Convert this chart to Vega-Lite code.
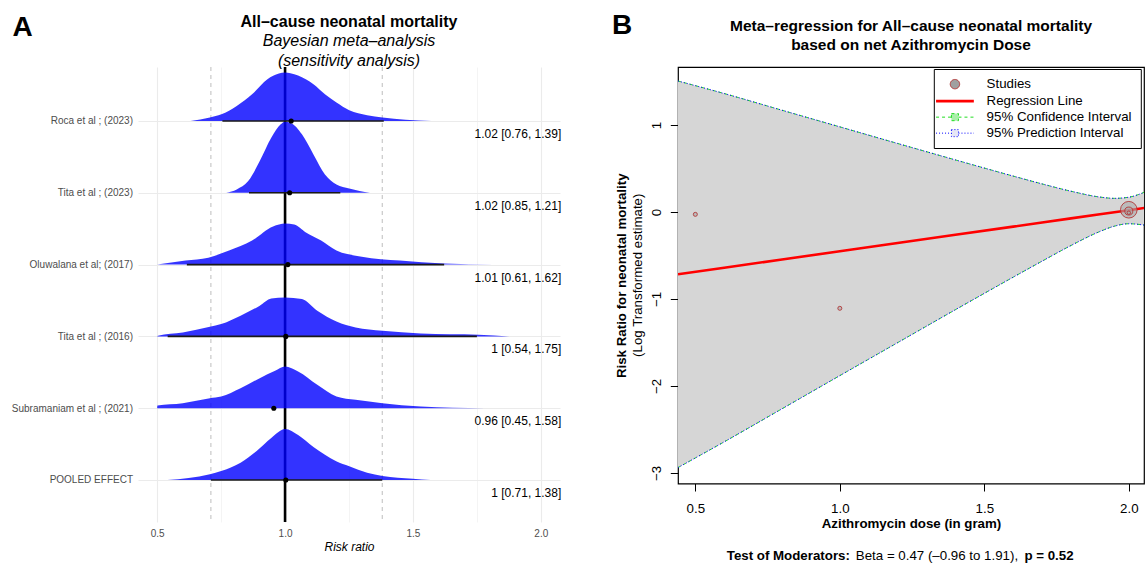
{
 "$schema": "https://vega.github.io/schema/vega-lite/v6.json",
 "background": "white",
 "padding": {"left": 11, "top": 11, "right": 0, "bottom": 0},
 "config": {
  "font": "Liberation Sans",
  "view": {"stroke": null},
  "axis": {"labelFont": "Liberation Sans", "titleFont": "Liberation Sans"},
  "legend": {"labelFont": "Liberation Sans"},
  "title": {"font": "Liberation Sans", "subtitleFont": "Liberation Sans"}
 },
 "datasets": {
  "dens": [
   {"study": "Roca et al ; (2023)", "row": 6, "x": 0.631, "top": 6},
   {"study": "Roca et al ; (2023)", "row": 6, "x": 0.706, "top": 6.047},
   {"study": "Roca et al ; (2023)", "row": 6, "x": 0.751, "top": 6.093},
   {"study": "Roca et al ; (2023)", "row": 6, "x": 0.811, "top": 6.209},
   {"study": "Roca et al ; (2023)", "row": 6, "x": 0.871, "top": 6.372},
   {"study": "Roca et al ; (2023)", "row": 6, "x": 0.931, "top": 6.581},
   {"study": "Roca et al ; (2023)", "row": 6, "x": 0.976, "top": 6.66},
   {"study": "Roca et al ; (2023)", "row": 6, "x": 1.0, "top": 6.674},
   {"study": "Roca et al ; (2023)", "row": 6, "x": 1.021, "top": 6.665},
   {"study": "Roca et al ; (2023)", "row": 6, "x": 1.081, "top": 6.581},
   {"study": "Roca et al ; (2023)", "row": 6, "x": 1.111, "top": 6.512},
   {"study": "Roca et al ; (2023)", "row": 6, "x": 1.156, "top": 6.372},
   {"study": "Roca et al ; (2023)", "row": 6, "x": 1.201, "top": 6.256},
   {"study": "Roca et al ; (2023)", "row": 6, "x": 1.251, "top": 6.149},
   {"study": "Roca et al ; (2023)", "row": 6, "x": 1.321, "top": 6.079},
   {"study": "Roca et al ; (2023)", "row": 6, "x": 1.381, "top": 6.047},
   {"study": "Roca et al ; (2023)", "row": 6, "x": 1.471, "top": 6.019},
   {"study": "Roca et al ; (2023)", "row": 6, "x": 1.572, "top": 6},
   {"study": "Tita et al ; (2023)", "row": 5, "x": 0.77, "top": 5},
   {"study": "Tita et al ; (2023)", "row": 5, "x": 0.811, "top": 5.047},
   {"study": "Tita et al ; (2023)", "row": 5, "x": 0.856, "top": 5.163},
   {"study": "Tita et al ; (2023)", "row": 5, "x": 0.901, "top": 5.442},
   {"study": "Tita et al ; (2023)", "row": 5, "x": 0.946, "top": 5.767},
   {"study": "Tita et al ; (2023)", "row": 5, "x": 0.983, "top": 5.953},
   {"study": "Tita et al ; (2023)", "row": 5, "x": 1.0, "top": 5.99},
   {"study": "Tita et al ; (2023)", "row": 5, "x": 1.021, "top": 5.977},
   {"study": "Tita et al ; (2023)", "row": 5, "x": 1.066, "top": 5.814},
   {"study": "Tita et al ; (2023)", "row": 5, "x": 1.111, "top": 5.535},
   {"study": "Tita et al ; (2023)", "row": 5, "x": 1.156, "top": 5.256},
   {"study": "Tita et al ; (2023)", "row": 5, "x": 1.201, "top": 5.116},
   {"study": "Tita et al ; (2023)", "row": 5, "x": 1.251, "top": 5.06},
   {"study": "Tita et al ; (2023)", "row": 5, "x": 1.332, "top": 5},
   {"study": "Oluwalana et al; (2017)", "row": 4, "x": 0.5, "top": 4},
   {"study": "Oluwalana et al; (2017)", "row": 4, "x": 0.611, "top": 4.056},
   {"study": "Oluwalana et al; (2017)", "row": 4, "x": 0.7, "top": 4.097},
   {"study": "Oluwalana et al; (2017)", "row": 4, "x": 0.781, "top": 4.195},
   {"study": "Oluwalana et al; (2017)", "row": 4, "x": 0.871, "top": 4.334},
   {"study": "Oluwalana et al; (2017)", "row": 4, "x": 0.953, "top": 4.529},
   {"study": "Oluwalana et al; (2017)", "row": 4, "x": 1.0, "top": 4.571},
   {"study": "Oluwalana et al; (2017)", "row": 4, "x": 1.036, "top": 4.557},
   {"study": "Oluwalana et al; (2017)", "row": 4, "x": 1.08, "top": 4.45},
   {"study": "Oluwalana et al; (2017)", "row": 4, "x": 1.141, "top": 4.334},
   {"study": "Oluwalana et al; (2017)", "row": 4, "x": 1.201, "top": 4.195},
   {"study": "Oluwalana et al; (2017)", "row": 4, "x": 1.3, "top": 4.111},
   {"study": "Oluwalana et al; (2017)", "row": 4, "x": 1.449, "top": 4.056},
   {"study": "Oluwalana et al; (2017)", "row": 4, "x": 1.62, "top": 4.014},
   {"study": "Oluwalana et al; (2017)", "row": 4, "x": 1.817, "top": 4},
   {"study": "Tita et al ; (2016)", "row": 3, "x": 0.5, "top": 3},
   {"study": "Tita et al ; (2016)", "row": 3, "x": 0.503, "top": 3.01},
   {"study": "Tita et al ; (2016)", "row": 3, "x": 0.6, "top": 3.056},
   {"study": "Tita et al ; (2016)", "row": 3, "x": 0.706, "top": 3.135},
   {"study": "Tita et al ; (2016)", "row": 3, "x": 0.75, "top": 3.171},
   {"study": "Tita et al ; (2016)", "row": 3, "x": 0.826, "top": 3.288},
   {"study": "Tita et al ; (2016)", "row": 3, "x": 0.901, "top": 3.428},
   {"study": "Tita et al ; (2016)", "row": 3, "x": 0.946, "top": 3.529},
   {"study": "Tita et al ; (2016)", "row": 3, "x": 1.0, "top": 3.543},
   {"study": "Tita et al ; (2016)", "row": 3, "x": 1.066, "top": 3.52},
   {"study": "Tita et al ; (2016)", "row": 3, "x": 1.126, "top": 3.358},
   {"study": "Tita et al ; (2016)", "row": 3, "x": 1.201, "top": 3.209},
   {"study": "Tita et al ; (2016)", "row": 3, "x": 1.276, "top": 3.125},
   {"study": "Tita et al ; (2016)", "row": 3, "x": 1.381, "top": 3.079},
   {"study": "Tita et al ; (2016)", "row": 3, "x": 1.531, "top": 3.042},
   {"study": "Tita et al ; (2016)", "row": 3, "x": 1.757, "top": 3.024},
   {"study": "Tita et al ; (2016)", "row": 3, "x": 1.877, "top": 3},
   {"study": "Subramaniam et al ; (2021)", "row": 2, "x": 0.5, "top": 2},
   {"study": "Subramaniam et al ; (2021)", "row": 2, "x": 0.501, "top": 2.037},
   {"study": "Subramaniam et al ; (2021)", "row": 2, "x": 0.6, "top": 2.07},
   {"study": "Subramaniam et al ; (2021)", "row": 2, "x": 0.706, "top": 2.139},
   {"study": "Subramaniam et al ; (2021)", "row": 2, "x": 0.75, "top": 2.163},
   {"study": "Subramaniam et al ; (2021)", "row": 2, "x": 0.826, "top": 2.279},
   {"study": "Subramaniam et al ; (2021)", "row": 2, "x": 0.901, "top": 2.418},
   {"study": "Subramaniam et al ; (2021)", "row": 2, "x": 0.961, "top": 2.52},
   {"study": "Subramaniam et al ; (2021)", "row": 2, "x": 1.0, "top": 2.58},
   {"study": "Subramaniam et al ; (2021)", "row": 2, "x": 1.051, "top": 2.511},
   {"study": "Subramaniam et al ; (2021)", "row": 2, "x": 1.126, "top": 2.325},
   {"study": "Subramaniam et al ; (2021)", "row": 2, "x": 1.201, "top": 2.163},
   {"study": "Subramaniam et al ; (2021)", "row": 2, "x": 1.276, "top": 2.116},
   {"study": "Subramaniam et al ; (2021)", "row": 2, "x": 1.381, "top": 2.07},
   {"study": "Subramaniam et al ; (2021)", "row": 2, "x": 1.531, "top": 2.024},
   {"study": "Subramaniam et al ; (2021)", "row": 2, "x": 1.779, "top": 2},
   {"study": "POOLED EFFECT", "row": 1, "x": 0.54, "top": 1},
   {"study": "POOLED EFFECT", "row": 1, "x": 0.706, "top": 1.079},
   {"study": "POOLED EFFECT", "row": 1, "x": 0.75, "top": 1.125},
   {"study": "POOLED EFFECT", "row": 1, "x": 0.826, "top": 1.241},
   {"study": "POOLED EFFECT", "row": 1, "x": 0.889, "top": 1.404},
   {"study": "POOLED EFFECT", "row": 1, "x": 0.946, "top": 1.585},
   {"study": "POOLED EFFECT", "row": 1, "x": 1.0, "top": 1.71},
   {"study": "POOLED EFFECT", "row": 1, "x": 1.051, "top": 1.627},
   {"study": "POOLED EFFECT", "row": 1, "x": 1.111, "top": 1.46},
   {"study": "POOLED EFFECT", "row": 1, "x": 1.156, "top": 1.35},
   {"study": "POOLED EFFECT", "row": 1, "x": 1.2, "top": 1.26},
   {"study": "POOLED EFFECT", "row": 1, "x": 1.251, "top": 1.19},
   {"study": "POOLED EFFECT", "row": 1, "x": 1.321, "top": 1.1},
   {"study": "POOLED EFFECT", "row": 1, "x": 1.381, "top": 1.056},
   {"study": "POOLED EFFECT", "row": 1, "x": 1.5, "top": 1.018},
   {"study": "POOLED EFFECT", "row": 1, "x": 1.569, "top": 1}
  ],
  "est": [
   {"study": "Roca et al ; (2023)", "row": 6, "est": 1.024, "lo": 0.755, "hi": 1.386, "lab": "1.02 [0.76, 1.39]"},
   {"study": "Tita et al ; (2023)", "row": 5, "est": 1.018, "lo": 0.859, "hi": 1.216, "lab": "1.02 [0.85, 1.21]"},
   {"study": "Oluwalana et al; (2017)", "row": 4, "est": 1.011, "lo": 0.616, "hi": 1.622, "lab": "1.01 [0.61, 1.62]"},
   {"study": "Tita et al ; (2016)", "row": 3, "est": 1.003, "lo": 0.541, "hi": 1.75, "lab": "1 [0.54, 1.75]"},
   {"study": "Subramaniam et al ; (2021)", "row": 2, "est": 0.956, "lo": 0.45, "hi": 1.58, "lab": "0.96 [0.45, 1.58]"},
   {"study": "POOLED EFFECT", "row": 1, "est": 1.003, "lo": 0.71, "hi": 1.38, "lab": "1 [0.71, 1.38]"}
  ],
  "reg": [
   {"dose": 0.44, "fit": -0.716, "lower": -2.938, "upper": 1.506},
   {"dose": 0.6, "fit": -0.64, "lower": -2.642, "upper": 1.362},
   {"dose": 0.8, "fit": -0.546, "lower": -2.262, "upper": 1.17},
   {"dose": 1.0, "fit": -0.451, "lower": -1.881, "upper": 0.979},
   {"dose": 1.2, "fit": -0.357, "lower": -1.502, "upper": 0.788},
   {"dose": 1.4, "fit": -0.262, "lower": -1.123, "upper": 0.599},
   {"dose": 1.6, "fit": -0.168, "lower": -0.749, "upper": 0.413},
   {"dose": 1.7, "fit": -0.121, "lower": -0.565, "upper": 0.323},
   {"dose": 1.8, "fit": -0.073, "lower": -0.385, "upper": 0.239},
   {"dose": 1.9, "fit": -0.026, "lower": -0.224, "upper": 0.172},
   {"dose": 1.95, "fit": -0.003, "lower": -0.163, "upper": 0.157},
   {"dose": 2.0, "fit": 0.021, "lower": -0.135, "upper": 0.17},
   {"dose": 2.053, "fit": 0.046, "lower": -0.15, "upper": 0.226}
  ],
  "studies": [
   {"dose": 2.0, "lnrr": 0.026, "w": 71.9},
   {"dose": 2.0, "lnrr": 0.011, "w": 16.7},
   {"dose": 0.5, "lnrr": -0.027, "w": 4.2},
   {"dose": 1.0, "lnrr": -1.107, "w": 4.2},
   {"dose": 2.0, "lnrr": -0.008, "w": 3.1}
  ]
 },
 "spacing": 49,
 "resolve": {"scale": {"color": "independent"}, "legend": {"color": "independent"}},
 "hconcat": [
  {
   "width": 422,
   "height": 455,
   "title": {
    "text": "All–cause neonatal mortality",
    "subtitle": ["Bayesian meta–analysis", "(sensitivity analysis)"],
    "anchor": "middle",
    "fontSize": 16,
    "fontWeight": "bold",
    "color": "black",
    "subtitleFontSize": 16,
    "subtitleFontStyle": "italic",
    "subtitleColor": "black",
    "subtitlePadding": 3,
    "subtitleLineHeight": 19.5,
    "offset": -55
   },
   "layer": [
    {
     "data": {"name": "est"},
     "transform": [{"filter": "datum.row == 1"}],
     "mark": {"type": "rule", "color": "#BDBDBD", "strokeWidth": 1, "strokeDash": [4, 4]},
     "encoding": {
      "x": {
       "field": "lo", "type": "quantitative", "title": "Risk ratio",
       "scale": {"domain": [0.425, 2.075], "nice": false, "zero": false},
       "axis": {
        "values": [0.5, 0.75, 1, 1.25, 1.5, 1.75, 2],
        "labelExpr": "(datum.value * 4) % 2 == 0 ? format(datum.value, '.1f') : ''",
        "grid": true,
        "gridColor": "#EBEBEB",
        "gridWidth": {"condition": {"test": "(datum.value * 4) % 2 == 1", "value": 0.55}, "value": 1.1},
        "ticks": false,
        "domain": false,
        "labelFontSize": 10,
        "labelColor": "#4D4D4D",
        "labelPadding": 6,
        "title": "Risk ratio",
        "titleFontStyle": "italic",
        "titleFontWeight": "normal",
        "titleFontSize": 12,
        "titleColor": "black",
        "titlePadding": 3
       }
      }
     }
    },
    {
     "data": {"name": "est"},
     "transform": [{"filter": "datum.row == 1"}],
     "mark": {"type": "rule", "color": "#BDBDBD", "strokeWidth": 1, "strokeDash": [4, 4]},
     "encoding": {"x": {"field": "hi", "type": "quantitative", "title": "Risk ratio"}}
    },
    {
     "data": {"values": [{}]},
     "mark": {"type": "rule", "color": "black", "strokeWidth": 2.6},
     "encoding": {"x": {"datum": 1}}
    },
    {
     "data": {"name": "dens"},
     "mark": {"type": "area", "interpolate": "monotone", "color": "#0000FF", "opacity": 1, "fillOpacity": 0.8},
     "encoding": {
      "x": {"field": "x", "type": "quantitative", "title": "Risk ratio"},
      "y": {
       "field": "top", "type": "quantitative",
       "scale": {"domain": [0.415, 6.752], "nice": false, "zero": false},
       "axis": {
        "values": [1, 2, 3, 4, 5, 6],
        "labelExpr": "datum.value == 6 ? 'Roca et al ; (2023)' : datum.value == 5 ? 'Tita et al ; (2023)' : datum.value == 4 ? 'Oluwalana et al; (2017)' : datum.value == 3 ? 'Tita et al ; (2016)' : datum.value == 2 ? 'Subramaniam et al ; (2021)' : 'POOLED EFFECT'",
        "title": null,
        "ticks": false,
        "domain": false,
        "grid": true,
        "gridColor": "#EBEBEB",
        "gridWidth": 1.1,
        "labelFontSize": 10,
        "labelColor": "#4D4D4D",
        "labelPadding": 5.5
       }
      },
      "y2": {"field": "row"},
      "detail": {"field": "study"}
     }
    },
    {
     "data": {"name": "est"},
     "transform": [{"filter": "datum.lo >= 0.5"}],
     "mark": {"type": "rule", "color": "#1A1A1A", "strokeWidth": 1.6},
     "encoding": {
      "x": {"field": "lo", "type": "quantitative", "title": "Risk ratio"},
      "x2": {"field": "hi"},
      "y": {"field": "row", "type": "quantitative"}
     }
    },
    {
     "data": {"name": "est"},
     "mark": {"type": "circle", "color": "black", "size": 26, "opacity": 1},
     "encoding": {
      "x": {"field": "est", "type": "quantitative", "title": "Risk ratio"},
      "y": {"field": "row", "type": "quantitative"}
     }
    },
    {
     "data": {"name": "est"},
     "mark": {"type": "text", "align": "right", "baseline": "middle", "dy": 13, "fontSize": 12, "color": "black"},
     "encoding": {
      "x": {"datum": 2.08},
      "y": {"field": "row", "type": "quantitative"},
      "text": {"field": "lab"}
     }
    },
    {
     "data": {"values": [{}]},
     "mark": {"type": "text", "text": "A", "fontSize": 28, "fontWeight": "bold", "align": "center", "baseline": "alphabetic", "color": "black"},
     "encoding": {"x": {"datum": -0.026}, "y": {"datum": 7.184}}
    }
   ]
  },
  {
   "width": 466,
   "height": 416.5,
   "view": {"stroke": "black", "strokeWidth": 1.2},
   "title": {
    "text": ["Meta–regression for All–cause neonatal mortality", "based on net Azithromycin Dose"],
    "anchor": "middle",
    "fontSize": 15.5,
    "fontWeight": "bold",
    "lineHeight": 19,
    "color": "black",
    "offset": -41
   },
   "layer": [
    {
     "data": {"name": "reg"},
     "mark": {"type": "area", "interpolate": "monotone", "color": "#D6D6D6", "opacity": 1, "clip": true},
     "encoding": {
      "x": {
       "field": "dose", "type": "quantitative",
       "scale": {"domain": [0.44, 2.0526], "nice": false, "zero": false},
       "axis": {
        "values": [0.5, 1, 1.5, 2],
        "format": ".1f",
        "grid": false,
        "domain": false,
        "tickColor": "black",
        "tickSize": 7.5,
        "tickWidth": 1,
        "labelFontSize": 13.3,
        "labelColor": "black",
        "labelPadding": 10,
        "title": "Azithromycin dose (in gram)",
        "titleFontSize": 13.3,
        "titleFontWeight": "bold",
        "titleColor": "black",
        "titlePadding": 2
       }
      },
      "y": {
       "field": "lower", "type": "quantitative",
       "scale": {"domain": [-3.121, 1.667], "nice": false, "zero": false},
       "axis": {
        "values": [-3, -2, -1, 0, 1],
        "format": "d",
        "grid": false,
        "domain": false,
        "tickColor": "black",
        "tickSize": 7.7,
        "tickWidth": 1,
        "labelAngle": 270,
        "labelAlign": "center",
        "labelBaseline": "alphabetic",
        "labelFontSize": 13.3,
        "labelColor": "black",
        "labelPadding": 10,
        "title": "Risk Ratio for neonatal mortality",
        "titleFontSize": 13.3,
        "titleFontWeight": "bold",
        "titleColor": "black",
        "titlePadding": 21
       }
      },
      "y2": {"field": "upper"}
     }
    },
    {
     "data": {"name": "reg"},
     "mark": {"type": "line", "interpolate": "monotone", "strokeWidth": 1, "strokeDash": [3, 3], "clip": true},
     "encoding": {
      "x": {"field": "dose", "type": "quantitative"},
      "y": {"field": "upper", "type": "quantitative"},
      "color": {
       "datum": "95% Confidence Interval",
       "scale": {
        "domain": ["Studies", "Regression Line", "95% Confidence Interval", "95% Prediction Interval"],
        "range": ["#B03030", "#FF0000", "#22DD22", "#0000FF"]
       },
       "legend": {
        "title": null,
        "orient": "none",
        "legendX": 255.8,
        "legendY": 2,
        "strokeColor": "black",
        "fillColor": "white",
        "padding": 8.5,
        "symbolSize": 270,
        "symbolOffset": 6,
        "labelOffset": 25,
        "rowPadding": 2,
        "labelFontSize": 13.3,
        "labelColor": "black",
        "labelLimit": 300,
        "encode": {
         "symbols": {
          "update": {
           "shape": {"signal": "datum.value === 'Studies' ? 'circle' : datum.value === 'Regression Line' ? 'M-2.3,0H2.3' : 'M-2.3,0H-0.43M0.43,0H2.3M-0.43,-0.43H0.43V0.43H-0.43Z'"},
           "size": {"signal": "datum.value === 'Studies' ? 88 : 270"},
           "fill": {"signal": "datum.value === 'Studies' ? '#A0A0A0' : datum.value === '95% Confidence Interval' ? '#A8EFA8' : datum.value === '95% Prediction Interval' ? '#E6E6F5' : 'transparent'"},
           "fillOpacity": {"value": 1},
           "opacity": {"value": 1},
           "stroke": {"signal": "datum.value === 'Studies' ? '#B03030' : datum.value === 'Regression Line' ? '#FF0000' : datum.value === '95% Confidence Interval' ? '#22DD22' : '#0000FF'"},
           "strokeWidth": {"signal": "datum.value === 'Regression Line' ? 2.6 : 1"},
           "strokeDash": {"signal": "datum.value === '95% Confidence Interval' ? [3, 3] : datum.value === '95% Prediction Interval' ? [1, 2] : [1, 0]"}
          }
         }
        }
       }
      }
     }
    },
    {
     "data": {"name": "reg"},
     "mark": {"type": "line", "interpolate": "monotone", "strokeWidth": 1, "strokeDash": [3, 3], "clip": true},
     "encoding": {
      "x": {"field": "dose", "type": "quantitative"},
      "y": {"field": "lower", "type": "quantitative"},
      "color": {"datum": "95% Confidence Interval"}
     }
    },
    {
     "data": {"name": "reg"},
     "mark": {"type": "line", "interpolate": "monotone", "strokeWidth": 1, "strokeDash": [1, 2], "clip": true},
     "encoding": {
      "x": {"field": "dose", "type": "quantitative"},
      "y": {"field": "upper", "type": "quantitative"},
      "color": {"datum": "95% Prediction Interval"}
     }
    },
    {
     "data": {"name": "reg"},
     "mark": {"type": "line", "interpolate": "monotone", "strokeWidth": 1, "strokeDash": [1, 2], "clip": true},
     "encoding": {
      "x": {"field": "dose", "type": "quantitative"},
      "y": {"field": "lower", "type": "quantitative"},
      "color": {"datum": "95% Prediction Interval"}
     }
    },
    {
     "data": {"name": "reg"},
     "mark": {"type": "line", "strokeWidth": 2.6, "clip": true},
     "encoding": {
      "x": {"field": "dose", "type": "quantitative"},
      "y": {"field": "fit", "type": "quantitative"},
      "color": {"datum": "Regression Line"}
     }
    },
    {
     "data": {"name": "studies"},
     "mark": {"type": "point", "shape": "circle", "filled": false, "fill": "#A9A9A9", "fillOpacity": 0.6, "opacity": 1, "strokeWidth": 1, "strokeOpacity": 0.85},
     "encoding": {
      "x": {"field": "dose", "type": "quantitative"},
      "y": {"field": "lnrr", "type": "quantitative"},
      "size": {"field": "w", "type": "quantitative", "scale": {"domain": [0, 71.9], "range": [0, 276], "zero": true}, "legend": null},
      "color": {"datum": "Studies"}
     }
    },
    {
     "data": {"values": [{}]},
     "mark": {"type": "text", "text": "Test of Moderators:", "align": "left", "baseline": "middle", "fontSize": 13.3, "fontWeight": "bold", "color": "black"},
     "encoding": {"x": {"datum": 0.6087}, "y": {"datum": -3.954}}
    },
    {
     "data": {"values": [{}]},
     "mark": {"type": "text", "text": "Beta = 0.47 (–0.96 to 1.91),", "align": "left", "baseline": "middle", "fontSize": 13.3, "color": "black"},
     "encoding": {"x": {"datum": 1.0554}, "y": {"datum": -3.954}}
    },
    {
     "data": {"values": [{}]},
     "mark": {"type": "text", "text": "p = 0.52", "align": "left", "baseline": "middle", "fontSize": 13.3, "fontWeight": "bold", "color": "black"},
     "encoding": {"x": {"datum": 1.6388}, "y": {"datum": -3.954}}
    },
    {
     "data": {"values": [{}]},
     "mark": {"type": "text", "text": "(Log Transformed estimate)", "angle": 270, "align": "center", "baseline": "middle", "fontSize": 13.3, "color": "black"},
     "encoding": {"x": {"datum": 0.3021}, "y": {"datum": -0.727}}
    },
    {
     "data": {"values": [{}]},
     "mark": {"type": "text", "text": "B", "fontSize": 28, "fontWeight": "bold", "align": "center", "baseline": "alphabetic", "color": "black"},
     "encoding": {"x": {"datum": 0.2462}, "y": {"datum": 2.046}}
    }
   ]
  }
 ]
}
